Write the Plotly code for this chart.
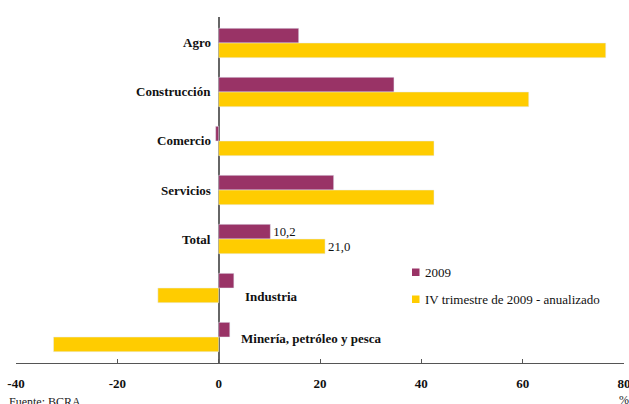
import plotly.graph_objects as go

categories = ["Agro", "Construcción", "Comercio", "Servicios", "Total", "Industria", "Minería, petróleo y pesca"]
serie_2009 = [15.8, 34.6, -0.6, 22.7, 10.2, 3.0, 2.2]
serie_iv = [76.4, 61.2, 42.5, 42.5, 21.0, -12.0, -32.6]
labels_2009 = ["", "", "", "", "10,2", "", ""]
labels_iv = ["", "", "", "", "21,0", "", ""]
series_names = ["2009", "IV trimestre de 2009 - anualizado"]
tick_vals = [-40, -20, 0, 20, 40, 60, 80]
tick_text = ["-40", "-20", "0", "20", "40", "60", "80"]

MAROON = "#993366"
YELLOW = "#FFCC00"
FONT = "Liberation Serif"

fig = go.Figure()
fig.add_trace(go.Bar(y=categories, x=serie_2009, orientation="h", marker_color=MAROON, name=series_names[0],
                     text=labels_2009, textposition="outside", cliponaxis=False,
                     textfont=dict(family=FONT, size=13, color="#111"), showlegend=False))
fig.add_trace(go.Bar(y=categories, x=serie_iv, orientation="h", marker_color=YELLOW, name=series_names[1],
                     text=labels_iv, textposition="outside", cliponaxis=False,
                     textfont=dict(family=FONT, size=13, color="#111"), showlegend=False))

# legend (drawn manually for tight spacing)
W, H = 629, 404
L, R, T, B = 16, 5, 17, 41
pw, ph = W - L - R, H - T - B
def px(x):
    return (x - L) / pw
def py(y):
    return (H - B - y) / ph
for (name, col, yc) in [(series_names[0], MAROON, 272), (series_names[1], YELLOW, 299)]:
    fig.add_shape(type="rect", xref="paper", yref="paper", x0=px(412), x1=px(419.5),
                  y0=py(yc + 4), y1=py(yc - 3.5), fillcolor=col, line=dict(width=0))
    fig.add_annotation(xref="paper", yref="paper", x=px(423), y=py(yc), xanchor="left", yanchor="middle",
                       text=name, showarrow=False, font=dict(family=FONT, size=13, color="#111"))

# category labels
for i, c in enumerate(categories):
    if c == "Industria":
        fig.add_annotation(x=0, y=c, text="<b>%s</b>" % c, xanchor="left", xshift=24, yshift=-8,
                           showarrow=False, font=dict(family=FONT, size=13, color="#111"))
    elif c.startswith("Miner"):
        fig.add_annotation(x=0, y=c, text="<b>%s</b>" % c, xanchor="left", xshift=20, yshift=-1,
                           showarrow=False, font=dict(family=FONT, size=13, color="#111"))
    else:
        fig.add_annotation(x=0, y=c, text="<b>%s</b>" % c, xanchor="right", xshift=-6,
                           showarrow=False, font=dict(family=FONT, size=13, color="#111"))

fig.add_annotation(xref="paper", yref="paper", x=px(7), y=py(393), yanchor="top", xanchor="left",
                   text="Fuente: BCRA", showarrow=False, font=dict(family=FONT, size=12, color="#222"))
fig.add_annotation(xref="paper", yref="paper", x=px(624), y=py(391), yanchor="top", xanchor="center",
                   text="%", showarrow=False, font=dict(family=FONT, size=12, color="#222"))

fig.update_layout(
    width=W, height=H,
    margin=dict(l=L, r=R, t=T, b=B, autoexpand=False),
    paper_bgcolor="white", plot_bgcolor="white",
    barmode="group", bargap=0.4, bargroupgap=0,
    font=dict(family=FONT, size=13, color="#111"),
    showlegend=False,
    xaxis=dict(range=[-40, 80], tickvals=tick_vals, ticktext=["<b>%s</b>" % t for t in tick_text],
               automargin=False, ticklabeloverflow="allow",
               showgrid=False, zeroline=True, zerolinecolor="#666", zerolinewidth=1.5,
               showline=True, linecolor="#555", linewidth=1, ticks="inside", ticklen=4,
               tickcolor="#555", ticklabelstandoff=8,
               tickfont=dict(family=FONT, size=13, color="#111")),
    yaxis=dict(autorange=False, range=[6.53, -0.53], showticklabels=False, showgrid=False,
               automargin=False,
               zeroline=False, showline=False, ticks=""),
)

fig.write_html("out.html")
